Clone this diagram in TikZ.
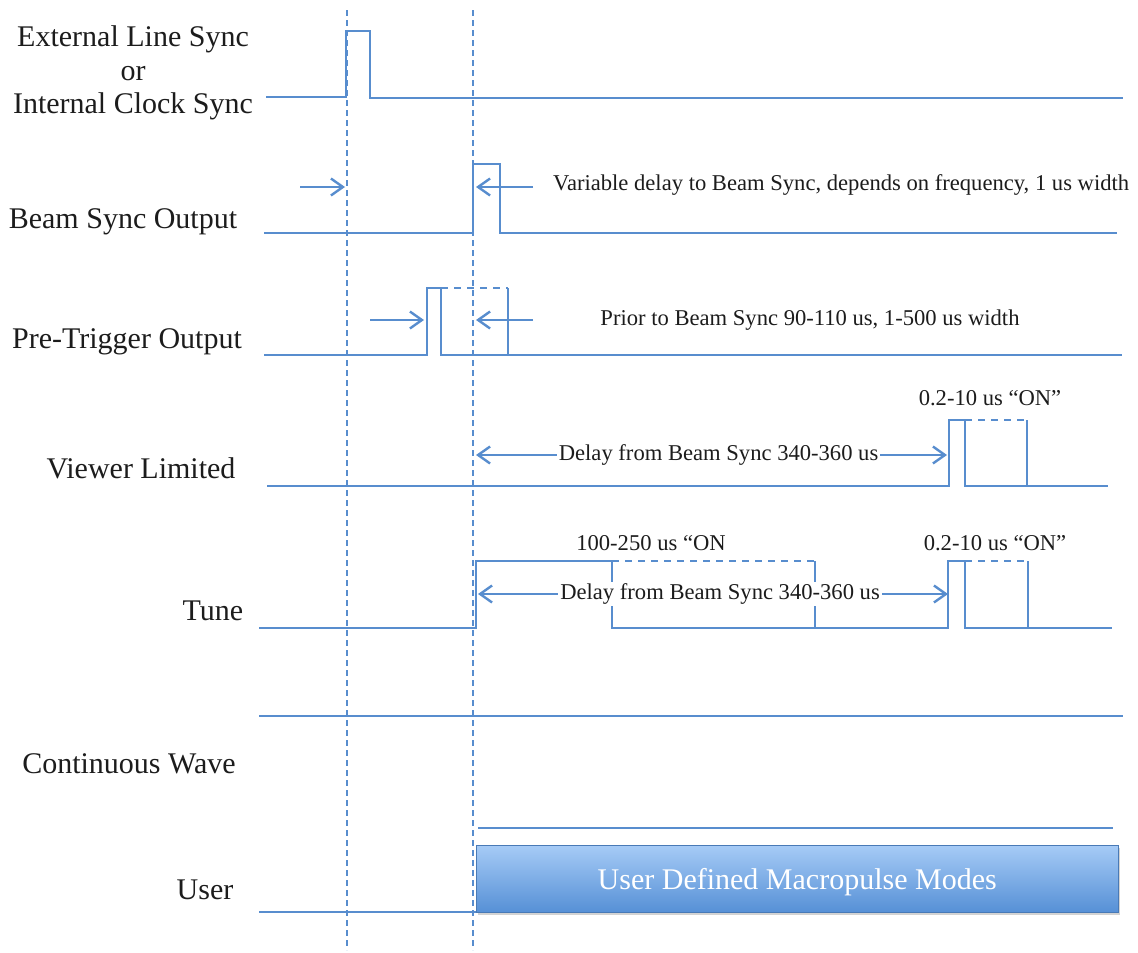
\documentclass[tikz,border=0pt]{standalone}
\usepackage{fontspec}
\setmainfont{Liberation Serif}
\usetikzlibrary{arrows.meta}
\usetikzlibrary{shadows}
\definecolor{TraceBlue}{RGB}{88,141,206}
\definecolor{LabelGrey}{HTML}{1C1C1C}
\definecolor{BoxTop}{HTML}{A6CBF6}
\definecolor{BoxBottom}{HTML}{5690D6}
\tikzset{
  timing style/.style={
    x=1pt, y=-1pt,
  },
  Barb/.tip={Straight Barb[length=12pt,width=17pt,line width=2.4pt]},
  trace/.style={
    draw=TraceBlue, line width=1.6pt, line join=miter
  },
  trace dashed/.style={
    trace, dash pattern=on 7pt off 6pt
  },
  marker line/.style={
    draw=TraceBlue, line width=1.3pt, dash pattern=on 6pt off 4pt
  },
  delay arrow/.style={
    draw=TraceBlue, line width=1.5pt, -Barb
  },
  delay span/.style={
    draw=TraceBlue, line width=1.5pt, Barb-Barb
  },
  lane label/.style={
    text=LabelGrey, font=\fontsize{30}{33.5}\selectfont, align=center, inner sep=0pt
  },
  note/.style={
    text=LabelGrey, font=\fontsize{22.6}{26}\selectfont, inner sep=2pt
  },
  macro box/.style={
    draw=BoxBottom!85!black, line width=0.5pt,
    top color=BoxTop, bottom color=BoxBottom,
    drop shadow={shadow xshift=1.5pt, shadow yshift=-3pt, opacity=0.35},
    text=white, font=\fontsize{30}{33}\selectfont,
    minimum width=642pt, minimum height=67pt, inner sep=0pt
  },
}

\begin{document}
\begin{tikzpicture}[timing style]
  \useasboundingbox (0,0) rectangle (1138,953);

  % lane labels
  \node[lane label] (ext)    at (133,73)  {External Line Sync\\or\\Internal Clock Sync};
  \node[lane label] (beam)   at (123,222) {Beam Sync Output};
  \node[lane label] (pre)    at (127,342) {Pre-Trigger Output};
  \node[lane label] (viewer) at (141,468) {Viewer Limited};
  \node[lane label] (tune)   at (213,611) {Tune};
  \node[lane label] (cw)     at (129,764) {Continuous Wave};
  \node[lane label] (user)   at (205,890) {User};

  % sync reference markers
  \foreach \name/\x in {syncA/347, syncB/473} {
    \coordinate (\name top) at (\x,10);
    \coordinate (\name bot) at (\x,950);
    \draw[marker line] (\name top) -- (\name bot);
  }

  % external / internal sync pulse
  \draw[trace] (266,97) -- (346,97) -- (346,31) -- (370,31) -- (370,98) -- (1123,98);

  % beam sync output
  \draw[trace] (264,233) -- (473,233) -- (473,164) -- (500,164) -- (500,233) -- (1117,233);
  \coordinate (bs left) at (300,187);
  \coordinate (bs left tip) at (345,187);
  \coordinate (bs right) at (533,187);
  \coordinate (bs right tip) at (476,187);
  \draw[delay arrow] (bs left) -- (bs left tip);
  \draw[delay arrow] (bs right) -- (bs right tip);
  \node[note, anchor=west] (bs note) at (551,185)
    {Variable delay to Beam Sync, depends on frequency, 1 us width};

  % pre-trigger output
  \draw[trace] (264,355) -- (427,355) -- (427,288) -- (441,288) -- (441,355) -- (1122,355);
  \draw[trace dashed] (441,288) -- (508,288);
  \draw[trace] (508,288) -- (508,355);
  \coordinate (pt left) at (370,320);
  \coordinate (pt left tip) at (424,320);
  \coordinate (pt right) at (533,320);
  \coordinate (pt right tip) at (476,320);
  \draw[delay arrow] (pt left) -- (pt left tip);
  \draw[delay arrow] (pt right) -- (pt right tip);
  \node[note] (pt note) at (810,320) {Prior to Beam Sync 90-110 us, 1-500 us width};

  % viewer limited
  \draw[trace] (267,486) -- (949,486) -- (949,420) -- (965,420) -- (965,486) -- (1108,486);
  \draw[trace dashed] (965,420) -- (1027,420);
  \draw[trace] (1027,420) -- (1027,486);
  \node[note] (vl on) at (990,398) {0.2-10 us “ON”};
  \coordinate (vl start) at (476,455);
  \coordinate (vl end) at (947,455);
  \draw[delay span] (vl start) -- node[note, fill=white, pos=0.515] (vl delay)
    {Delay from Beam Sync 340-360 us} (vl end);

  % tune
  \draw[trace] (259,628) -- (476,628) -- (476,561) -- (612,561) -- (612,628)
    -- (948,628) -- (948,561) -- (965,561) -- (965,628) -- (1112,628);
  \draw[trace dashed] (612,561) -- (815,561);
  \draw[trace] (815,561) -- (815,628);
  \draw[trace dashed] (965,561) -- (1028,561);
  \draw[trace] (1028,561) -- (1028,628);
  \node[note] (tn on a) at (651,543) {100-250 us “ON};
  \node[note] (tn on b) at (995,543) {0.2-10 us “ON”};
  \coordinate (tn start) at (478,594);
  \coordinate (tn end) at (948,594);
  \draw[delay span] (tn start) -- node[note, fill=white, pos=0.515] (tn delay)
    {Delay from Beam Sync 340-360 us} (tn end);

  % continuous wave
  \draw[trace] (259,716) -- (1123,716);

  % user defined
  \draw[trace] (478,828) -- (1113,828);
  \draw[trace] (259,912) -- (476,912);
  \node[macro box, anchor=north west, text depth=0pt] (macro) at (476,845) {User Defined Macropulse Modes};
\end{tikzpicture}
\end{document}
